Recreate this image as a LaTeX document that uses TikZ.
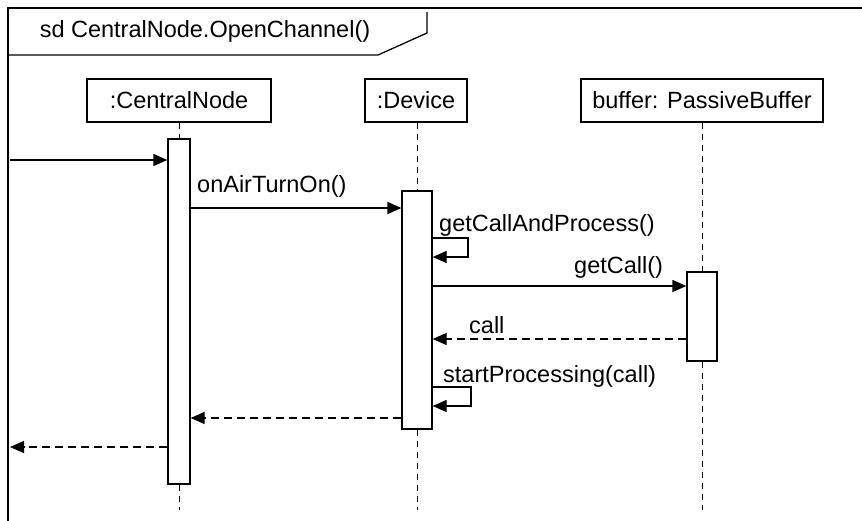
\documentclass[tikz,border=0pt]{standalone}
\usepackage{fontspec}
\setmainfont{Liberation Sans}
\usetikzlibrary{arrows.meta}
\begin{document}
\begin{tikzpicture}[x=1pt,y=-1pt,
  lbl/.style={font=\fontsize{23.5}{27}\selectfont, inner sep=0pt},
  head/.style={draw, line width=1.3pt, minimum height=43pt, inner sep=0pt, font=\fontsize{23.5}{27}\selectfont},
  act/.style={draw, line width=1.3pt, fill=white, inner sep=0pt},
  msg/.style={line width=1.3pt, -{Triangle[length=14pt,width=12pt]}},
  ret/.style={msg, dash pattern=on 8pt off 5pt},
  life/.style={line width=1pt, dash pattern=on 6pt off 5pt}]
\useasboundingbox (0,0) rectangle (862,520);
% frame
\draw[line width=1.3pt] (8,522) -- (8,8) -- (864,8);
\draw[line width=1.3pt] (8,55) -- (378,55) -- (427,33) -- (427,12);
\node[lbl] (title) at (205,31) {sd CentralNode.OpenChannel()};
% heads
\node[head, minimum width=184pt] (cn) at (179,100.5) {:CentralNode};
\node[head, minimum width=102pt] (dev) at (416,100.5) {:Device};
\node[head, minimum width=242pt] (buf) at (702,100.5) {buffer: PassiveBuffer};
% ends
\coordinate (cnend) at (179,510);
\coordinate (devend) at (417,510);
\coordinate (bufend) at (702,510);
% activations
\node[act, minimum width=22pt, minimum height=345pt] (cnact) at (179,311.5) {};
\node[act, minimum width=30pt, minimum height=238pt] (devact) at (417,310) {};
\node[act, minimum width=30pt, minimum height=89pt] (bufact) at (702,316.5) {};
% lifelines
\draw[life] (cn.south -| cnact.north) -- (cnact.north);
\draw[life] (cnact.south) -- (cnend);
\draw[life] (dev.south -| devact.north) -- (devact.north);
\draw[life] (devact.south) -- (devend);
\draw[life] (buf.south -| bufact.north) -- (bufact.north);
\draw[life] (bufact.south) -- (bufend);
% messages
\coordinate (start) at (10,160);
\draw[msg] (start) -- (start -| cnact.west);
\draw[msg] (cnact.east |- 0,208) -- (devact.west |- 0,208);
\node[lbl, anchor=base west] (m1) at (197,192) {onAirTurnOn()};
\draw[msg] (devact.east |- 0,238) -- (468,238) -- (468,257) -- (devact.east |- 0,257);
\node[lbl, anchor=base west] (m2) at (439,231) {getCallAndProcess()};
\draw[msg] (devact.east |- 0,286) -- (bufact.west |- 0,286);
\node[lbl, anchor=base west] (m3) at (574,273) {getCall()};
\draw[ret] (bufact.west |- 0,339) -- (devact.east |- 0,339);
\node[lbl, anchor=base west] (m4) at (469,333) {call};
\draw[msg] (devact.east |- 0,387) -- (471,387) -- (471,406) -- (devact.east |- 0,406);
\node[lbl, anchor=base west] (m5) at (443,382) {startProcessing(call)};
\draw[ret] (devact.west |- 0,418) -- (cnact.east |- 0,418);
\coordinate (stop) at (10,447);
\draw[ret] (cnact.west |- stop) -- (stop);
\end{tikzpicture}
\end{document}
